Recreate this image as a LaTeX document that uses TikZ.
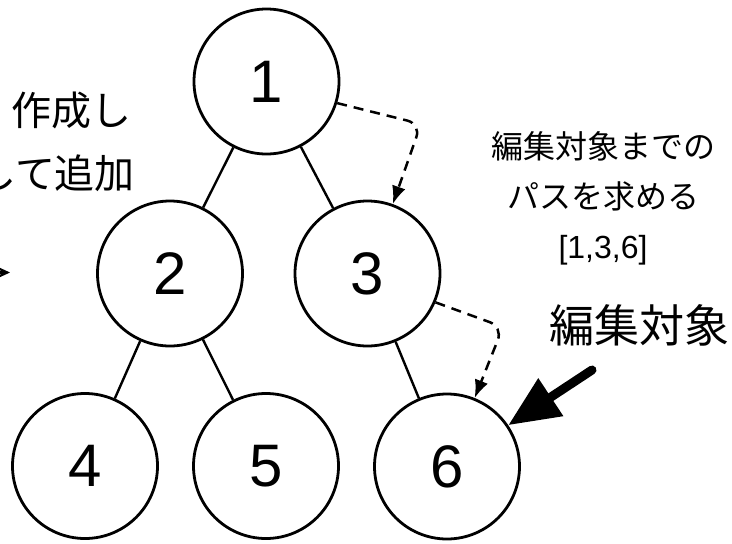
\documentclass[tikz,border=0pt]{standalone}
\usepackage{fontspec}
\usepackage{tikz}
\usetikzlibrary{arrows.meta,positioning}
\newfontfamily\jpfont{Noto Sans CJK JP}
\newfontfamily\numfont{Liberation Sans}

\begin{document}
\begin{tikzpicture}[x=1pt,y=-1pt,
	knoten/.style={circle,draw,line width=2.8pt,minimum size=145pt,inner sep=0pt,font=\numfont\fontsize{60}{72}\selectfont},
	kante/.style={line width=2.4pt},
	pfad/.style={line width=2.5pt,dash pattern=on 10pt off 7pt,rounded corners=14pt,-{Latex[length=18pt,width=14pt]}},
	zeiger/.style={line width=9pt,line cap=round,-{Triangle[length=51pt,width=43pt]}}]

		\useasboundingbox (0,0) rectangle (732,544);
		\clip (0,0) rectangle (732,544);

		% tree
		\node[knoten] (n1) at (266.5,81.5) {1};
		\node[knoten] (n2) at (170,273.5) {2};
		\node[knoten] (n3) at (367.5,273.5) {3};
		\node[knoten] (n4) at (85,466) {4};
		\node[knoten] (n5) at (266,466) {5};
		\node[knoten] (n6) at (447,466.5) {6};

		\draw[kante] (n1) -- (n2);
		\draw[kante] (n1) -- (n3);
		\draw[kante] (n2) -- (n4);
		\draw[kante] (n2) -- (n5);
		\draw[kante] (n3) -- (n6);

		%---------------------
		% path to the target
		%---------------------
		\coordinate (ecke1) at (421,124);
		\coordinate (ecke2) at (503,327);
		\draw[pfad] (n1.-17) -- (ecke1) -- (n3.70);
		\draw[pfad] (n3.-23) -- (ecke2) -- (n6.68);

		\node[align=center,inner sep=0pt,font=\jpfont\fontsize{32}{50}\selectfont] (weg) at (603,198)
			{編集対象までの\\パスを求める\\{\numfont [1,3,6]}};

		% target
		\node[inner sep=0pt,font=\jpfont\fontsize{45}{54}\selectfont] (ziel) at (639,325) {編集対象};
		\coordinate (schaft) at (592,370);
		\draw[zeiger] (schaft) -- (n6.34);

		%---------------------
		% left side
		%---------------------
		\node[anchor=west,inner sep=0pt,font=\jpfont\fontsize{40}{48}\selectfont] (zeile1) at (11,110) {作成し};
		\node[anchor=west,inner sep=0pt,font=\jpfont\fontsize{40}{48}\selectfont] (zeile2) at (-24,173) {して追加};
		\coordinate (links) at (-30,272.5);
		\coordinate (spitze) at (10,272.5);
		\draw[line width=2.4pt,-{Stealth[length=12pt,width=11pt]}] (links) -- (spitze);

\end{tikzpicture}
\end{document}
